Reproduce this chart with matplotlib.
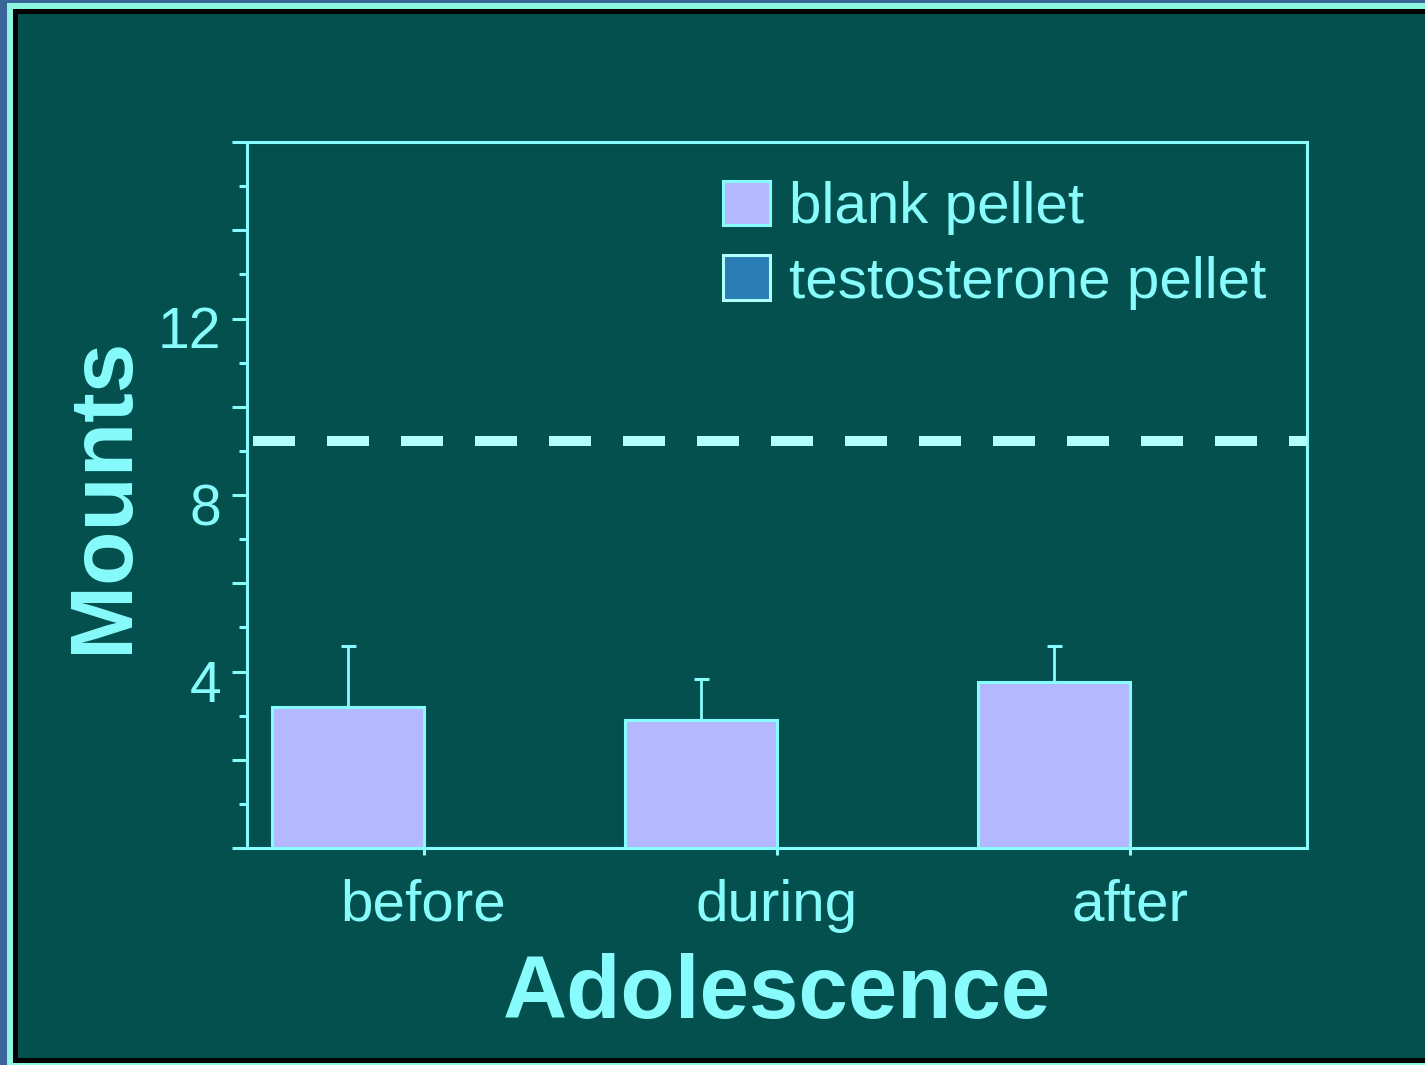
import matplotlib
matplotlib.use("Agg")
from matplotlib import pyplot as plt
from matplotlib.patches import Rectangle, Patch
from matplotlib.ticker import MultipleLocator, FuncFormatter
from matplotlib.transforms import ScaledTranslation
import numpy as np

# Dados
periodos = ["before", "during", "after"]
blank = [3.19, 2.90, 3.76]
blank_err = [1.39, 0.94, 0.82]
testosterona = [0, 0, 0]
linha_tracejada = 9.22
rotulos_y = [4, 8, 12]

# Cores
fundo = "#03504f"
aqua = "#88fcfc"
aqua_claro = "#b0fffb"
lilas = "#b4b9ff"
azul = "#2a7db5"

plt.rcParams["font.family"] = ["Liberation Sans", "DejaVu Sans"]

W, H = 1425, 1065
fig = plt.figure(figsize=(W / 100, H / 100), dpi=100)
fig.patch.set_facecolor("#3a6699")

# Moldura (pixels -> fracao da figura)
def ret(x0, y0, x1, y1, cor):
    fig.patches.append(Rectangle((x0 / W, 1 - y1 / H), (x1 - x0) / W, (y1 - y0) / H,
                                 transform=fig.transFigure, facecolor=cor,
                                 edgecolor="none", zorder=-10))

ret(7, 3, W, 1065, "#8ef5e0")
ret(13, 9, W, 1063, "#000000")
ret(18, 14, W, 1058, fundo)

ax = fig.add_axes([247 / W, 1 - 848 / H, (1307 - 247) / W, (848 - 142) / H])
ax.set_facecolor(fundo)

x = np.arange(len(periodos))
largura = 0.43

ax.bar(x, blank, width=-largura, align="edge", color=lilas, edgecolor=aqua,
       linewidth=2.2, zorder=3, label="blank pellet")
ax.bar(x, testosterona, width=largura, align="edge", color=azul, edgecolor=aqua,
       linewidth=2.2, zorder=3, label="testosterone pellet")
ax.errorbar(x - largura / 2, blank, yerr=[np.zeros(len(blank)), blank_err],
            fmt="none", ecolor=aqua, elinewidth=2.0, capsize=5.4, capthick=2.2, zorder=2)

ax.axhline(linha_tracejada, color=aqua_claro, linewidth=7.2,
           linestyle=(6.8, (4.2, 3.2)), dash_capstyle="butt", zorder=4)

ax.set_xlim(-0.5, 2.5)
ax.set_ylim(0, 16)

for lado in ["left", "right", "top", "bottom"]:
    ax.spines[lado].set_color(aqua)
    ax.spines[lado].set_linewidth(2.2)

ax.yaxis.set_major_locator(MultipleLocator(2))
ax.yaxis.set_minor_locator(MultipleLocator(1))
ax.yaxis.set_major_formatter(FuncFormatter(lambda v, p: f"{v:.0f}" if round(v) in rotulos_y else ""))
ax.tick_params(axis="y", which="major", length=10.8, width=2.2, color=aqua,
               labelcolor=aqua, labelsize=41, pad=8)
ax.tick_params(axis="y", which="minor", length=5.8, width=2.2, color=aqua)

ax.set_xticks(x)
ax.set_xticklabels(periodos)
ax.tick_params(axis="x", which="major", length=5, width=2.2, color=aqua,
               labelcolor=aqua, labelsize=42, pad=17)

# rotulos do eixo y um pouco abaixo do tick, como no original
desloc = ScaledTranslation(0, -9 / 100, fig.dpi_scale_trans)
for lab in ax.get_yticklabels():
    lab.set_transform(lab.get_transform() + desloc)

ax.set_xlabel("Adolescence", fontsize=64, fontweight="bold", color=aqua, labelpad=15)
ax.set_ylabel("Mounts", fontsize=64, fontweight="bold", color=aqua, labelpad=8)

handles = [Patch(facecolor=lilas, edgecolor=aqua, linewidth=2.2),
           Patch(facecolor=azul, edgecolor=aqua_claro, linewidth=2.2)]
leg = ax.legend(handles, ["blank pellet", "testosterone pellet"],
                loc="upper left", bbox_to_anchor=(0.427, 0.978), frameon=False,
                fontsize=42, handlelength=0.8, handleheight=0.8,
                handletextpad=0.33, labelspacing=0.34, borderaxespad=0)
for t in leg.get_texts():
    t.set_color(aqua)

fig.savefig("out.png", dpi=100, facecolor=fig.get_facecolor())
